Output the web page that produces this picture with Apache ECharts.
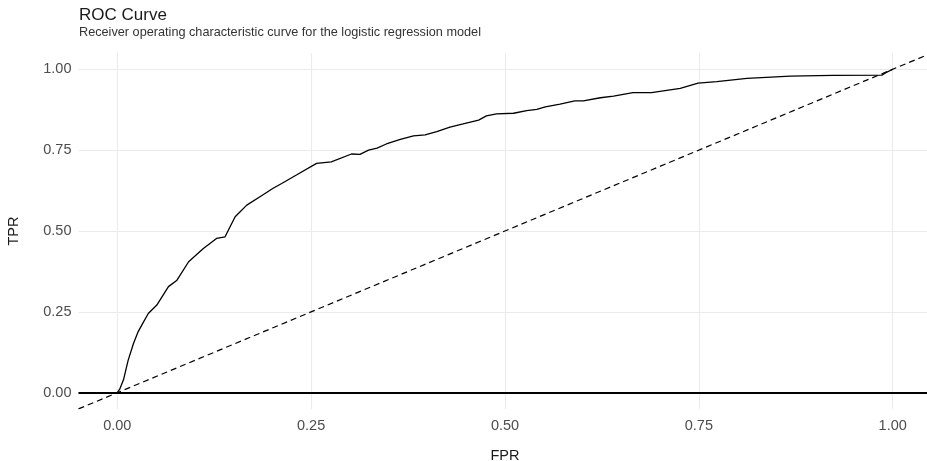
<!DOCTYPE html>
<html>
<head>
<meta charset="utf-8">
<script src="https://cdn.jsdelivr.net/npm/echarts@6/dist/echarts.min.js"></script>
<style>
html,body{margin:0;padding:0;background:#fff;}
#chart{width:927px;height:461px;}
</style>
</head>
<body>
<div id="chart"></div>
<script>
// ROC curve points (FPR, TPR)
const fpr = [0,0.003,0.008,0.014,0.021,0.027,0.033,0.040,0.051,0.066,0.077,0.092,0.111,0.128,0.139,0.152,0.167,0.184,0.201,0.212,0.231,0.257,0.276,0.302,0.313,0.324,0.335,0.347,0.365,0.382,0.397,0.412,0.429,0.446,0.466,0.476,0.489,0.511,0.528,0.541,0.552,0.571,0.590,0.601,0.623,0.640,0.665,0.689,0.726,0.749,0.773,0.812,0.868,0.923,0.986,0.990,1];
const tpr = [0,0.010,0.040,0.100,0.153,0.189,0.215,0.245,0.271,0.328,0.348,0.405,0.446,0.477,0.482,0.544,0.580,0.606,0.632,0.647,0.673,0.709,0.714,0.738,0.737,0.750,0.756,0.769,0.783,0.794,0.797,0.807,0.821,0.831,0.843,0.856,0.862,0.864,0.872,0.876,0.884,0.892,0.902,0.902,0.912,0.917,0.928,0.928,0.941,0.957,0.962,0.972,0.979,0.981,0.982,0.988,1];
// Reference diagonal (chance line) endpoints, spanning the padded axis range
const diagX = [-0.05, 1.05];
const diagY = [-0.05, 1.05];
// Horizontal reference line value
const hlineY = 0;
// Tick values
const xTicks = [0, 0.25, 0.5, 0.75, 1];
const yTicks = [0, 0.25, 0.5, 0.75, 1];
const axisMin = -0.05, axisMax = 1.05;

const FONT = 'Liberation Sans';
const chart = echarts.init(document.getElementById('chart'), null, {renderer: 'canvas'});

const curve = fpr.map((x, i) => [x, tpr[i]]);
const diag = diagX.map((x, i) => [x, diagY[i]]);

const gridLine = {show: true, lineStyle: {color: '#EBEBEB', width: 1.1}};

chart.setOption({
  animation: false,
  backgroundColor: '#fff',
  title: [
    {text: 'ROC Curve', left: 79, top: 7, padding: 0,
     textStyle: {fontFamily: FONT, fontSize: 17, fontWeight: 'normal', color: '#1a1a1a'}},
    {text: 'Receiver operating characteristic curve for the logistic regression model', left: 79, top: 25.5, padding: 0,
     textStyle: {fontFamily: FONT, fontSize: 12.7, fontWeight: 'normal', color: '#333'}}
  ],
  grid: {left: 78.5, right: -4.5, top: 53.1, bottom: 52.1, outerBoundsMode: 'none', containLabel: false},
  xAxis: {
    type: 'value', min: axisMin, max: axisMax,
    name: 'FPR', nameLocation: 'middle', nameGap: 40,
    nameTextStyle: {fontFamily: FONT, fontSize: 14.5, color: '#1a1a1a'},
    axisLine: {show: false},
    axisTick: {show: false, customValues: xTicks},
    axisLabel: {customValues: xTicks, fontFamily: FONT, fontSize: 14.5, color: '#4D4D4D', margin: 10,
                formatter: v => v.toFixed(2)},
    splitLine: gridLine
  },
  yAxis: {
    type: 'value', min: axisMin, max: axisMax,
    name: 'TPR', nameLocation: 'middle', nameGap: 57, nameRotate: 90,
    nameTextStyle: {fontFamily: FONT, fontSize: 14.5, color: '#1a1a1a'},
    axisLine: {show: false},
    axisTick: {show: false, customValues: yTicks},
    axisLabel: {customValues: yTicks, fontFamily: FONT, fontSize: 14.5, color: '#4D4D4D', margin: 7,
                formatter: v => v.toFixed(2)},
    splitLine: gridLine
  },
  series: [
    {
      type: 'line', data: curve, showSymbol: false, symbol: 'none', clip: true,
      lineStyle: {color: '#000', width: 1.3}, z: 3,
      markLine: {
        silent: true, symbol: ['none', 'none'], label: {show: false},
        lineStyle: {color: '#000', width: 2, type: 'solid'},
        data: [{yAxis: hlineY}]
      }
    },
    {
      type: 'line', data: diag, showSymbol: false, symbol: 'none', clip: true,
      lineStyle: {color: '#000', width: 1.2, type: [6, 4]}, z: 2
    }
  ]
});
</script>
</body>
</html>
